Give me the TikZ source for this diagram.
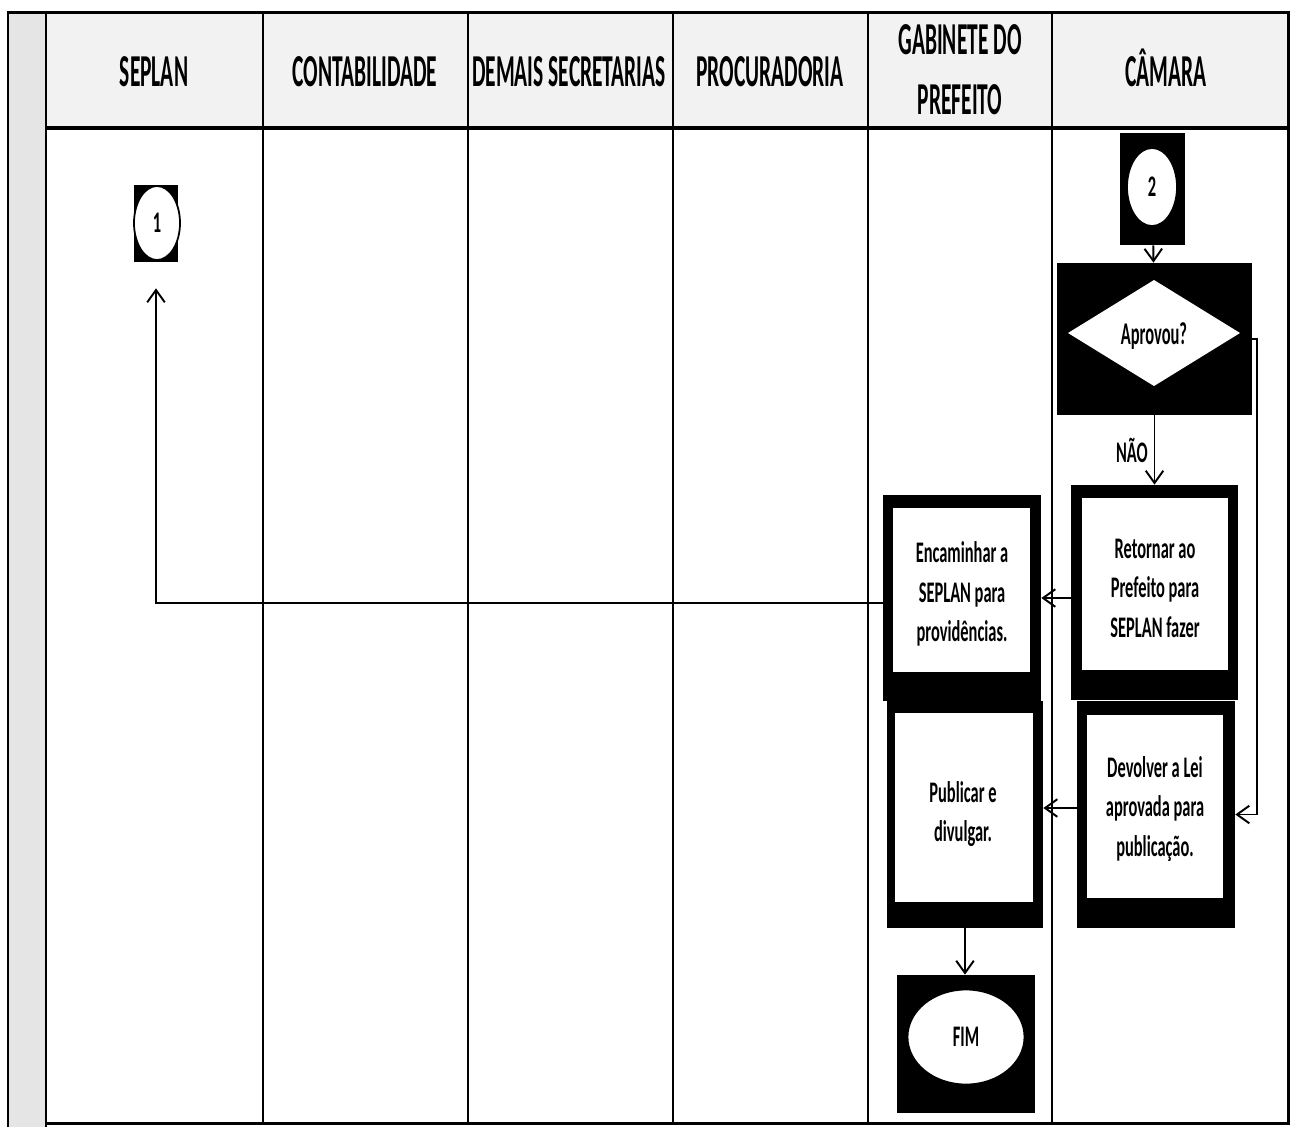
\documentclass[tikz,border=0pt]{standalone}
\usepackage{fontspec}
\setmainfont{Carlito}
\newfontfamily\hdfont[FakeStretch=0.47]{Carlito}
\newfontfamily\bxfont[FakeStretch=0.55]{Carlito}
\newfontfamily\dcfont[FakeStretch=0.52]{Carlito}
\usetikzlibrary{arrows.meta,fit,shapes.geometric}
\def\pxu{*0.02cm}
\begin{document}
\begin{tikzpicture}[x=0.02cm,y=-0.02cm,
  frame/.style={line width=1.7pt},
  col/.style={line width=1.2pt},
  blk/.style={fill=black, inner sep=0pt},
  wbox/.style={fill=white, inner sep=0pt},
  txt/.style={inner sep=0pt, align=center, font=\bxfont\bfseries\fontsize{17}{22.5}\selectfont},
  oval/.style={ellipse, fill=white, draw=black, line width=1pt, inner sep=0pt, font=\bxfont\bfseries\fontsize{17}{18}\selectfont},
  flow/.style={line width=1.1pt, -{Straight Barb[length=7pt,width=10pt,line width=1.1pt]}},
  hd/.style={font=\hdfont\bfseries\fontsize{26}{34}\selectfont, align=center},
  lbl/.style={font=\bxfont\bfseries\fontsize{17}{18}\selectfont}]
\useasboundingbox (0,0) rectangle (1291,1127);
% backgrounds
\fill[gray!20] (8,12) rectangle (46,1127);
\fill[gray!10] (46,12) rectangle (1288,128);
% frame and columns
\draw[frame] (8,1127) -- (8,12) -- (1288,12) -- (1288,1123) -- (46,1123);
\draw[frame] (46,12) -- (46,1127);
\draw[line width=2.2pt] (46,128) -- (1288,128);
\foreach \cx in {263,468,673,868,1052}
  \draw[col] (\cx,12) -- (\cx,1123);
% headers
\node[hd] (hseplan) at (154,72) {SEPLAN};
\node[hd] (hcont) at (365,72) {CONTABILIDADE};
\node[hd] (hdem) at (569,72) {DEMAIS SECRETARIAS};
\node[hd] (hproc) at (770,72) {PROCURADORIA};
\node[hd] (hgab) at (960,70) {GABINETE DO\\PREFEITO};
\node[hd] (hcam) at (1166,68) {CÂMARA};
% connector 1
\node[blk, fit={(134,185)(178,262)}] (c1) {};
\node[oval, minimum width=46\pxu, minimum height=74\pxu] (c1w) at (157,223) {1};
% connector 2
\node[blk, fit={(1120,133)(1185,245)}] (c2) {};
\node[oval, minimum width=50\pxu, minimum height=78\pxu] (c2w) at (1152,187) {2};
% decision
\node[blk, fit={(1057,263)(1252,415)}] (dec) {};
\fill[white] (1068,333) -- (1154,280) -- (1240,333) -- (1154,386) -- cycle;
\node[font=\dcfont\bfseries\fontsize{18}{18}\selectfont] (decw) at (1154,336) {Aprovou?};
% process boxes
\node[blk, fit={(1071,485)(1238,700)}] (ret) {};
\node[wbox, fit={(1082,498)(1228,670)}] (retw) {};
\node[txt] (rett) at (1155,588) {Retornar ao\\Prefeito para\\SEPLAN fazer};
\node[blk, fit={(883,495)(1041,701)}] (enc) {};
\node[wbox, fit={(893,508)(1030,672)}] (encw) {};
\node[txt] (enct) at (962,594) {Encaminhar a\\SEPLAN para\\providências.};
\node[blk, fit={(887,701)(1043,928)}] (pub) {};
\node[wbox, fit={(895,713)(1033,902)}] (pubw) {};
\node[txt] (pubt) at (963,814) {Publicar e\\divulgar.};
\node[blk, fit={(1077,701)(1235,928)}] (dev) {};
\node[wbox, fit={(1087,715)(1223,898)}] (devw) {};
\node[txt] (devt) at (1155,809) {Devolver a Lei\\aprovada para\\publicação.};
% end
\node[blk, fit={(897,975)(1035,1113)}] (fim) {};
\node[oval, minimum width=117\pxu, minimum height=95\pxu] (fimw) at (966,1037) {FIM};
% connectors
\draw[flow] (c2) -- (dec);
\draw[flow] (dec) -- node[lbl, left, pos=0.5] {NÃO} (ret);
\draw[flow] (dec.east) -- ++(5,0) coordinate (rgt) |- (dev.east);
\draw[flow] (ret.west |- 0,598) -- (enc.east |- 0,598);
\draw[flow] (enc.west |- 0,603) -| ([yshift=-0.52cm]c1.south);
\draw[flow] (dev.west |- 0,808) -- (pub.east |- 0,808);
\draw[flow] (pub.south -| 965,0) -- (fim.north -| 965,0);
\end{tikzpicture}
\end{document}
